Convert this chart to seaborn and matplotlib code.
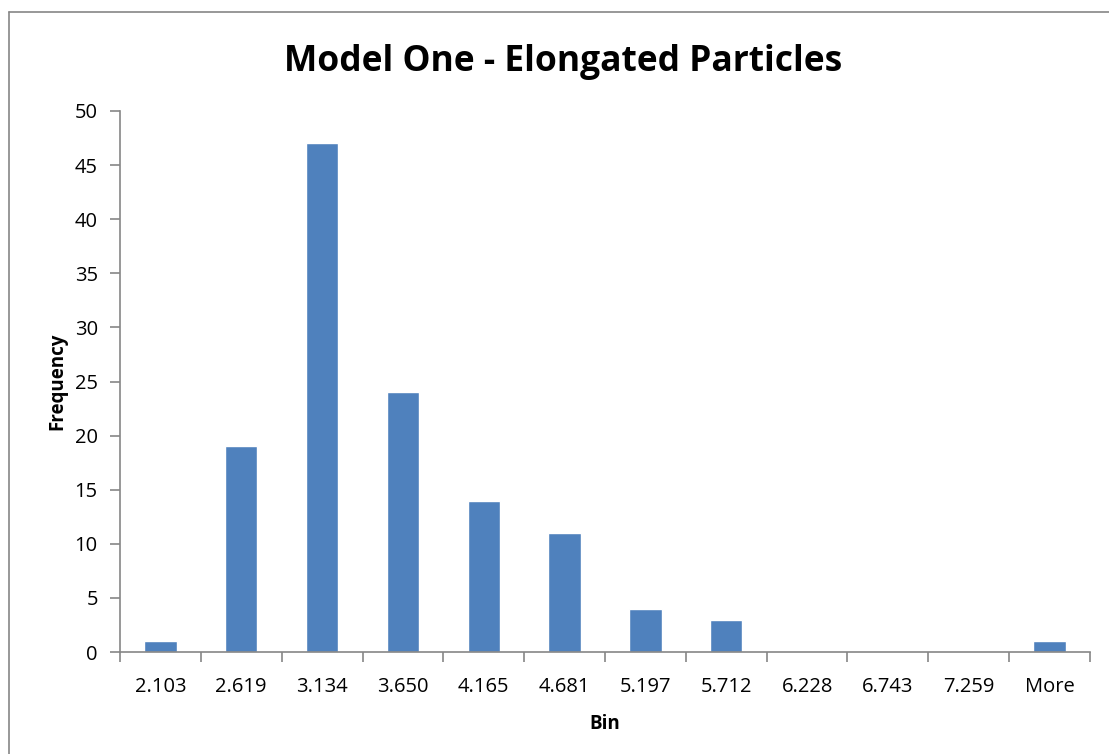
import matplotlib
matplotlib.use("Agg")
import matplotlib.pyplot as plt
from matplotlib.lines import Line2D
import seaborn as sns
import pandas as pd

bins = ["2.103", "2.619", "3.134", "3.650", "4.165", "4.681", "5.197",
        "5.712", "6.228", "6.743", "7.259", "More"]
frequency = [1, 19, 47, 24, 14, 11, 4, 3, 0, 0, 0, 1]

sns.set_theme(style="white")
plt.rcParams['font.family'] = ['Open Sans', 'DejaVu Sans']
plt.rcParams['text.color'] = 'black'
plt.rcParams['axes.labelcolor'] = 'black'

df = pd.DataFrame({"Bin": bins, "Frequency": frequency})

W, H = 1109, 754
fig = plt.figure(figsize=(W / 100, H / 100), dpi=100)
ax = fig.add_axes([120 / W, 1 - 652 / H, (1090 - 120) / W, (652 - 111) / H])

sns.barplot(data=df, x="Bin", y="Frequency", color="#4F81BD", saturation=1,
            width=0.4, ax=ax)

ax.set_xlim(-0.5, len(bins) - 0.5)
ax.set_ylim(0, 50)
ax.set_yticks(range(0, 51, 5))
ax.set_xticks([i - 0.5 for i in range(len(bins) + 1)], minor=True)
ax.tick_params(axis="x", which="major", length=0, pad=18, labelsize=14.5, labelcolor="black")
ax.tick_params(axis="x", which="minor", length=7, width=1.2, color="#868686", direction="out", bottom=True)
ax.tick_params(axis="y", length=7, width=1.2, color="#868686", direction="out", left=True,
               labelsize=14.5, labelcolor="black", pad=9)

for s in ["top", "right"]:
    ax.spines[s].set_visible(False)
for s in ["left", "bottom"]:
    ax.spines[s].set_color("#868686")
    ax.spines[s].set_linewidth(1.2)

ax.set_xlabel("Bin", fontsize=13.5, fontweight="bold", labelpad=12, color="black")
ax.set_ylabel("Frequency", fontsize=13.5, fontweight="bold", labelpad=5, color="black")

fig.text(563 / W, 1 - 62 / H, "Model One - Elongated Particles", ha="center", va="center",
         fontsize=25.5, fontweight="bold", color="black")

# chart border (top and left visible)
fig.add_artist(Line2D([9 / W, 1], [1 - 12 / H, 1 - 12 / H], transform=fig.transFigure,
                      color="#868686", lw=1.2))
fig.add_artist(Line2D([9 / W, 9 / W], [0, 1 - 12 / H], transform=fig.transFigure,
                      color="#868686", lw=1.2))

fig.savefig("out.png", dpi=100)
